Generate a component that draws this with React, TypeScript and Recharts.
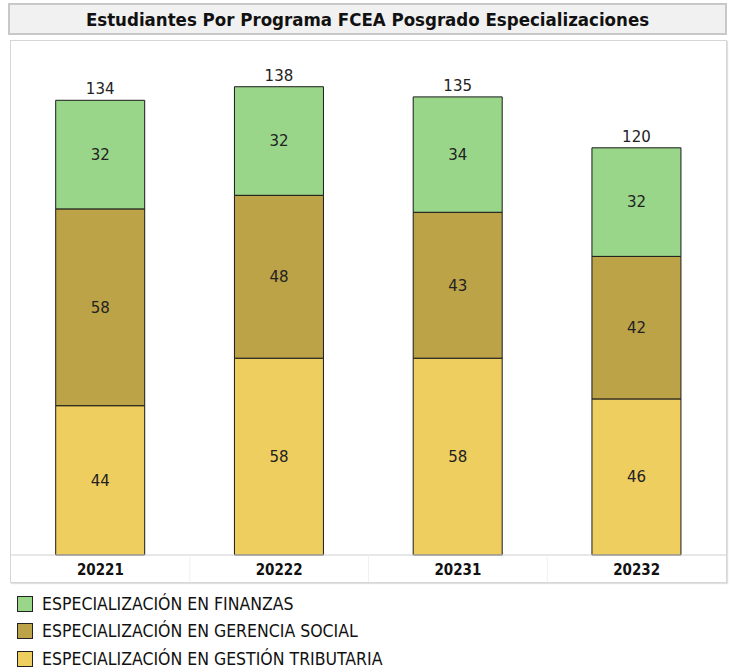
import React from "react";
import { BarChart, Bar, XAxis, YAxis, LabelList } from "recharts";

const categories = ["20221", "20222", "20231", "20232"];
const tributaria = [44, 58, 58, 46];
const gerencia = [58, 48, 43, 42];
const finanzas = [32, 32, 34, 32];

const seriesNames = {
  finanzas: "ESPECIALIZACIÓN EN FINANZAS",
  gerencia: "ESPECIALIZACIÓN EN GERENCIA SOCIAL",
  tributaria: "ESPECIALIZACIÓN EN GESTIÓN TRIBUTARIA",
};

const colors = {
  finanzas: "#9AD68A",
  gerencia: "#BDA348",
  tributaria: "#EFCE60",
};

const data = categories.map((c, i) => ({
  cat: c,
  tributaria: tributaria[i],
  gerencia: gerencia[i],
  finanzas: finanzas[i],
  total: tributaria[i] + gerencia[i] + finanzas[i],
}));

const BAND = 715 / categories.length;

const Tick = (props: any) => {
  const { x, y, payload, index } = props;
  return (
    <g>
      {index < categories.length - 1 && (
        <line x1={x + BAND / 2} x2={x + BAND / 2} y1={y - 8} y2={y + 20} stroke="#f0f0f0" />
      )}
      <text x={x} y={y + 12} textAnchor="middle" fontWeight="bold" fontSize={15} fill="#111" fontFamily="'DejaVu Sans Condensed', 'DejaVu Sans', sans-serif">
        {payload.value}
      </text>
    </g>
  );
};

const legendItems = [
  { key: "finanzas", name: seriesNames.finanzas, color: colors.finanzas },
  { key: "gerencia", name: seriesNames.gerencia, color: colors.gerencia },
  { key: "tributaria", name: seriesNames.tributaria, color: colors.tributaria },
];

const labelFont = "'DejaVu Sans', sans-serif";

export default function App() {
  return (
    <div style={{ position: "absolute", left: 0, top: 0, width: 735, height: 672, background: "#fff" }}>
      <div
        style={{
          position: "absolute",
          left: 8,
          top: 3,
          width: 715,
          height: 28,
          background: "#f1f1f1",
          border: "2px solid #c8c8c8",
          display: "flex",
          alignItems: "center",
          justifyContent: "center",
          fontFamily: "'DejaVu Sans Condensed', 'DejaVu Sans', sans-serif",
          fontWeight: "bold",
          fontSize: 18.5,
          color: "#111",
        }}
      >
        Estudiantes Por Programa FCEA Posgrado Especializaciones
      </div>
      <div
        style={{
          position: "absolute",
          left: 10,
          top: 40,
          width: 715,
          height: 541,
          border: "1px solid #d6d6d6",
          boxShadow: "1px 1px 1px #e0e0e0",
        }}
      >
        <BarChart
          width={715}
          height={541}
          data={data}
          margin={{ top: 5, right: 0, bottom: 0, left: 0 }}
          barCategoryGap="25%"
        >
          <XAxis
            dataKey="cat"
            height={27}
            axisLine={{ stroke: "#d0d0d0" }}
            tickLine={false}
            tick={<Tick />}
            interval={0}
          />
          <YAxis hide domain={[0, 150]} />
          <Bar dataKey="tributaria" stackId="a" fill={colors.tributaria} stroke="#1a1a1a" strokeWidth={1} isAnimationActive={false}>
            <LabelList dataKey="tributaria" position="center" fill="#222" fontSize={15} fontFamily={labelFont} />
          </Bar>
          <Bar dataKey="gerencia" stackId="a" fill={colors.gerencia} stroke="#1a1a1a" strokeWidth={1} isAnimationActive={false}>
            <LabelList dataKey="gerencia" position="center" fill="#222" fontSize={15} fontFamily={labelFont} />
          </Bar>
          <Bar dataKey="finanzas" stackId="a" fill={colors.finanzas} stroke="#1a1a1a" strokeWidth={1} isAnimationActive={false}>
            <LabelList dataKey="finanzas" position="center" fill="#222" fontSize={15} fontFamily={labelFont} />
            <LabelList dataKey="total" position="top" offset={6} fill="#222" fontSize={15} fontFamily={labelFont} />
          </Bar>
        </BarChart>
      </div>
      <div style={{ position: "absolute", left: 17, top: 590 }}>
        {legendItems.map((it) => (
          <div key={it.key} style={{ display: "flex", alignItems: "center", height: 27.5 }}>
            <div style={{ width: 14, height: 14, background: it.color, border: "1px solid #222", marginRight: 9 }} />
            <span
              style={{
                fontFamily: "'Liberation Sans Narrow', 'DejaVu Sans Condensed', sans-serif",
                fontSize: 17.5,
                color: "#111",
              }}
            >
              {it.name}
            </span>
          </div>
        ))}
      </div>
    </div>
  );
}
